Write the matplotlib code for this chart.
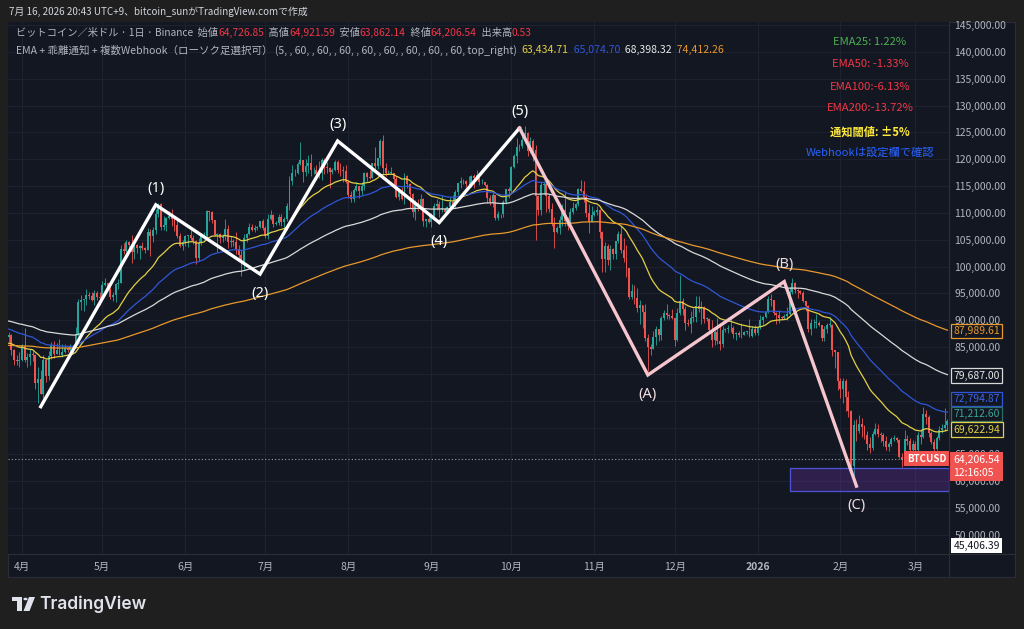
import numpy as np
import pandas as pd
import matplotlib
matplotlib.use('Agg')
import matplotlib.pyplot as plt
from matplotlib.patches import Rectangle, Circle, Polygon

plt.rcParams['font.family'] = ['Noto Sans CJK JP', 'DejaVu Sans']

# daily BTCUSD candles (thousand USD), 2025-03-27 .. 2026-03-13, open = previous close
start_date = '2025-03-27'
first_open_k = 86.9
close_k = [
    # 2025-03 (27-31)
    87.2, 84.4, 82.6, 82.4, 82.5,
    # 2025-04
    85.2, 82.5, 83.1, 83.8, 83.5, 78.3, 79.1, 76.3, 82.6, 79.6,
    83.4, 85.3, 83.7, 84.5, 83.6, 84.0, 84.9, 84.4, 85.0, 85.1,
    87.5, 93.4, 93.7, 93.9, 94.7, 94.6, 93.8, 95.0, 94.3, 94.2,
    # 2025-05
    96.5, 96.9, 95.9, 94.3, 94.7, 96.8, 97.0, 103.2, 102.9, 104.6,
    104.1, 102.8, 104.1, 103.5, 103.8, 103.5, 103.1, 106.5, 105.6, 106.8,
    109.7, 111.7, 107.3, 107.8, 109.0, 109.4, 108.9, 107.8, 105.6, 103.9,
    104.6,
    # 2025-06
    105.7, 105.8, 105.4, 104.7, 101.6, 104.4, 105.6, 105.7, 110.3, 110.2,
    108.7, 105.9, 106.0, 105.4, 105.6, 107.0, 104.5, 104.8, 104.6, 103.3,
    102.2, 100.9, 105.4, 106.0, 107.3, 106.9, 107.1, 107.3, 108.4, 107.1,
    # 2025-07
    105.7, 108.8, 109.6, 108.0, 108.2, 109.2, 108.3, 108.9, 111.3, 115.9,
    117.5, 117.4, 119.1, 119.8, 117.7, 118.7, 119.3, 117.9, 117.9, 117.3,
    117.4, 119.9, 118.6, 118.3, 117.6, 117.9, 119.4, 118.0, 117.9, 117.8,
    115.8,
    # 2025-08
    113.3, 112.6, 114.2, 115.1, 114.1, 115.0, 117.5, 116.7, 116.5, 119.3,
    118.7, 120.2, 123.3, 118.4, 117.4, 117.5, 117.5, 116.3, 112.9, 114.3,
    112.5, 116.9, 115.4, 113.5, 110.1, 111.8, 111.3, 112.6, 108.4, 108.8,
    108.3,
    # 2025-09
    109.2, 111.2, 111.7, 110.7, 110.7, 110.2, 111.1, 112.1, 111.5, 113.9,
    115.5, 116.0, 115.9, 115.3, 115.3, 116.8, 116.5, 117.1, 115.7, 115.7,
    115.2, 112.7, 112.0, 113.3, 109.0, 109.7, 109.7, 112.1, 114.4, 114.0,
    # 2025-10
    118.6, 120.6, 122.3, 122.4, 123.5, 124.8, 121.5, 123.3, 121.7, 113.2,
    110.6, 115.2, 115.3, 113.1, 110.8, 108.2, 106.5, 107.2, 108.7, 110.5,
    108.5, 107.6, 110.1, 111.0, 111.6, 114.5, 114.1, 112.9, 110.0, 108.3,
    109.6,
    # 2025-11
    110.1, 110.6, 106.5, 101.5, 103.9, 101.3, 103.3, 102.3, 104.7, 106.0,
    103.0, 101.6, 99.7, 94.4, 95.5, 94.2, 92.2, 92.9, 91.5, 86.6,
    85.1, 84.7, 86.8, 88.3, 87.3, 90.5, 91.3, 90.9, 90.8, 90.4,
    # 2025-12
    86.3, 91.3, 93.5, 92.1, 89.4, 89.3, 90.4, 90.6, 92.7, 92.0,
    92.5, 90.3, 90.3, 88.2, 86.4, 87.8, 86.2, 85.5, 88.1, 88.3,
    88.6, 88.5, 87.5, 87.6, 87.2, 87.3, 87.8, 87.8, 87.1, 88.4,
    87.6,
    # 2026-01
    88.7, 90.0, 90.6, 91.5, 93.9, 93.7, 91.3, 91.0, 90.5, 90.4,
    90.8, 91.2, 95.3, 97.0, 95.6, 95.5, 95.1, 93.6, 92.6, 88.3,
    89.4, 89.5, 89.5, 89.2, 86.6, 88.3, 89.2, 89.2, 84.5, 84.1,
    78.6,
    # 2026-02
    77.2, 78.7, 75.7, 73.0, 62.9, 70.5, 69.3, 70.6, 70.2, 68.7,
    67.0, 66.2, 68.8, 69.8, 68.8, 68.7, 67.5, 66.4, 66.9, 67.9,
    68.0, 67.6, 64.6, 64.0, 67.9, 67.5, 65.9, 66.9,
    # 2026-03 (1-13)
    65.8, 68.6, 68.3, 72.6, 72.0, 68.9, 67.4, 66.1, 68.0, 69.6,
    69.9, 70.5, 71.2,
]
high_k = [
    87.8, 87.5, 84.6, 83.5, 84.0,
    85.6, 88.5, 83.9, 84.7, 84.2, 83.8, 81.2, 80.8, 83.5, 82.7,
    84.2, 85.9, 86.1, 85.8, 86.5, 85.5, 85.5, 85.1, 85.6, 85.3,
    88.8, 93.9, 94.7, 94.0, 95.8, 95.3, 95.3, 95.6, 95.5, 95.2,
    97.4, 97.9, 96.9, 96.3, 95.2, 96.9, 97.7, 104.0, 104.3, 104.9,
    104.8, 105.8, 104.9, 104.2, 104.1, 104.6, 103.7, 107.1, 107.0, 107.3,
    110.8, 111.9, 111.9, 109.5, 109.3, 110.4, 110.7, 109.3, 108.9, 106.3,
    104.9,
    105.9, 105.9, 106.8, 105.9, 105.0, 105.4, 105.9, 106.5, 110.6, 110.4,
    110.4, 108.6, 106.2, 106.2, 106.1, 108.9, 107.7, 105.6, 105.2, 106.5,
    104.0, 103.0, 106.1, 106.3, 108.1, 108.0, 107.8, 107.6, 108.5, 108.8,
    107.5, 109.7, 110.5, 109.8, 108.4, 109.7, 109.7, 109.2, 111.9, 116.9,
    118.9, 118.2, 119.5, 123.2, 119.9, 120.1, 120.8, 120.9, 118.6, 118.9,
    119.7, 120.2, 120.2, 119.5, 118.5, 118.3, 119.8, 119.9, 119.3, 118.8,
    118.9,
    116.1, 114.0, 114.7, 115.7, 115.1, 115.7, 117.6, 117.7, 117.9, 119.3,
    122.3, 120.3, 123.7, 124.5, 119.2, 117.9, 118.6, 117.5, 116.8, 114.6,
    114.8, 117.4, 117.0, 115.6, 113.7, 112.4, 112.6, 113.5, 112.7, 108.9,
    109.5,
    109.9, 111.8, 112.6, 112.2, 113.4, 111.0, 111.3, 112.9, 113.3, 114.3,
    115.6, 116.7, 116.3, 116.1, 116.8, 117.0, 117.3, 117.9, 117.4, 116.3,
    115.8, 115.4, 113.3, 113.9, 113.4, 110.3, 109.8, 112.4, 114.5, 114.8,
    118.7, 121.0, 123.9, 122.9, 125.7, 126.2, 125.1, 124.2, 123.8, 122.6,
    113.4, 115.8, 116.0, 115.5, 113.6, 111.8, 109.2, 107.5, 109.5, 111.7,
    114.0, 109.2, 111.0, 112.0, 111.9, 114.6, 116.1, 116.0, 113.6, 111.6,
    111.2,
    110.6, 111.2, 110.8, 106.6, 104.5, 104.2, 104.0, 103.4, 104.8, 106.7,
    107.5, 105.3, 104.0, 99.8, 96.8, 96.6, 96.0, 93.8, 92.9, 93.1,
    87.5, 85.6, 88.0, 88.9, 88.4, 90.7, 91.9, 93.1, 91.2, 92.0,
    90.4, 92.3, 98.5, 94.1, 92.7, 90.3, 91.8, 92.3, 94.6, 94.5,
    93.5, 92.7, 90.6, 90.5, 90.1, 88.2, 90.4, 89.5, 89.0, 88.6,
    89.1, 90.6, 88.9, 87.9, 88.0, 89.5, 88.0, 88.0, 90.3, 89.0,
    89.2,
    88.9, 90.9, 90.7, 91.8, 94.6, 94.8, 93.8, 91.5, 91.9, 90.8,
    91.2, 92.4, 96.2, 97.9, 97.2, 95.8, 95.6, 95.5, 93.5, 92.8,
    90.3, 90.3, 91.2, 89.8, 89.2, 88.9, 89.5, 90.6, 89.3, 84.5,
    84.1,
    79.3, 79.3, 79.0, 76.9, 73.3, 71.5, 71.6, 72.3, 71.8, 70.5,
    69.3, 68.3, 69.4, 70.9, 70.6, 69.2, 69.0, 68.4, 67.3, 68.2,
    68.6, 68.3, 67.8, 65.2, 69.5, 68.6, 68.1, 67.7,
    67.5, 69.1, 69.8, 73.9, 73.3, 72.4, 69.3, 67.8, 68.5, 70.3,
    70.7, 73.6, 71.6,
]
low_k = [
    85.9, 83.6, 81.6, 81.6, 81.3,
    82.4, 82.3, 81.2, 81.7, 82.4, 77.2, 74.5, 76.2, 74.6, 78.5,
    78.9, 82.7, 83.0, 83.7, 83.6, 83.1, 83.9, 84.1, 84.2, 83.9,
    85.1, 87.1, 91.9, 91.7, 92.9, 93.9, 93.6, 92.9, 93.7, 92.9,
    94.1, 96.3, 95.7, 94.0, 93.5, 93.4, 95.8, 96.9, 102.3, 102.8,
    103.2, 100.7, 101.4, 102.6, 101.4, 103.1, 102.6, 103.1, 102.0, 104.6,
    106.1, 109.3, 106.8, 106.9, 106.6, 108.9, 107.6, 106.7, 105.3, 103.6,
    103.1,
    103.8, 103.7, 104.9, 104.2, 100.4, 101.1, 104.0, 105.1, 105.3, 108.4,
    108.1, 105.7, 102.7, 104.4, 104.5, 105.0, 103.4, 103.6, 103.9, 102.4,
    101.0, 98.2, 99.6, 104.6, 105.9, 106.6, 106.4, 106.8, 107.2, 106.8,
    105.3, 105.1, 108.6, 107.3, 107.8, 107.8, 107.5, 107.4, 108.4, 110.6,
    115.2, 116.9, 117.3, 118.9, 115.7, 116.9, 117.5, 116.8, 117.3, 116.5,
    116.5, 116.1, 117.3, 117.4, 114.7, 117.3, 117.8, 117.5, 116.9, 115.8,
    115.5,
    112.7, 112.0, 112.0, 114.1, 112.7, 113.4, 114.3, 115.9, 116.3, 116.5,
    118.1, 118.2, 118.9, 117.2, 116.8, 117.2, 117.2, 114.7, 112.7, 112.4,
    112.4, 111.7, 114.6, 110.9, 109.3, 108.7, 110.4, 110.9, 107.5, 107.4,
    108.1,
    107.3, 108.6, 110.6, 109.3, 110.2, 110.0, 110.0, 110.6, 110.9, 110.9,
    113.4, 114.7, 115.3, 114.8, 114.4, 114.8, 114.7, 116.3, 115.2, 115.3,
    115.1, 111.9, 111.5, 111.1, 108.7, 108.6, 109.1, 109.3, 111.6, 112.7,
    113.9, 118.4, 119.3, 121.6, 122.1, 123.1, 120.6, 121.1, 119.7, 105.0,
    109.6, 109.6, 113.5, 110.1, 110.2, 107.5, 103.5, 106.3, 106.1, 107.5,
    107.5, 106.8, 107.5, 109.7, 110.6, 111.3, 113.8, 112.1, 109.2, 106.3,
    108.6,
    109.4, 109.6, 105.3, 98.9, 98.9, 100.3, 99.3, 101.5, 101.4, 104.3,
    102.5, 100.8, 98.0, 94.0, 94.0, 93.0, 91.6, 89.3, 88.6, 86.1,
    80.6, 83.5, 84.6, 85.3, 86.1, 86.3, 90.0, 90.2, 90.3, 90.3,
    85.2, 86.2, 91.0, 91.0, 88.1, 88.9, 87.7, 89.6, 89.6, 91.6,
    89.3, 89.5, 89.8, 87.6, 85.1, 85.3, 85.5, 84.4, 85.1, 87.9,
    87.6, 87.9, 86.6, 86.4, 86.9, 86.6, 87.3, 87.5, 86.8, 86.9,
    87.3,
    87.2, 88.3, 89.3, 90.5, 91.4, 92.6, 90.9, 89.3, 89.5, 90.2,
    90.2, 90.0, 91.0, 94.9, 95.1, 94.2, 94.9, 93.4, 91.8, 87.9,
    87.3, 88.5, 88.6, 89.0, 86.2, 86.2, 87.6, 88.7, 83.4, 81.1,
    77.0,
    75.6, 74.6, 73.1, 71.9, 62.5, 60.1, 67.5, 68.9, 68.3, 67.9,
    65.8, 65.2, 65.9, 68.7, 68.2, 67.4, 66.6, 65.8, 65.6, 66.5,
    67.5, 67.3, 64.3, 62.6, 63.9, 66.8, 65.1, 63.5,
    65.2, 65.4, 67.0, 68.1, 70.6, 68.3, 67.0, 65.6, 65.8, 67.6,
    69.0, 69.4, 69.8,
]

# EMA settings, seeded with the values visible at the left edge
ema_periods = [25, 50, 100, 200]
ema_seed_k = [85.6, 88.4, 89.9, 85.3]
ema_colors = ['#e3cf45', '#2f56d6', '#d9d9d9', '#e8982c']

# Elliott wave drawing
wave_dates = ['2025-04-08', '2025-05-21', '2025-06-29', '2025-07-28', '2025-09-04', '2025-10-04']
wave_prices_k = [73.9, 111.5, 98.6, 123.4, 108.2, 125.8]
wave_labels = ['', '(1)', '(2)', '(3)', '(4)', '(5)']
abc_dates = ['2025-10-04', '2025-11-21', '2026-01-11', '2026-02-07']
abc_prices_k = [125.8, 79.8, 97.2, 59.1]
abc_labels = ['', '(A)', '(B)', '(C)']

zone_start = '2026-01-13'
zone_low_k, zone_high_k = 58.2, 62.5

last_price = 64206.54
month_labels = ['4月', '5月', '6月', '7月', '8月', '9月', '10月', '11月', '12月', '2026', '2月', '3月']

right_values = [87989.61, 79687.00, 72794.87, 71212.60, 69622.94]

# ---------------------------------------------------------------
c = np.array(close_k) * 1000
h = np.array(high_k) * 1000
l = np.array(low_k) * 1000
o = np.r_[first_open_k * 1000, c[:-1]]
h = np.maximum(h, np.maximum(o, c))
l = np.minimum(l, np.minimum(o, c))
n = len(c)
dates = pd.date_range(start_date, periods=n, freq='D')
t0 = dates[0]
idx = np.arange(n)


def day(d):
    return (pd.Timestamp(d) - t0).days


W, H = 1024, 629
BG = '#1f1f1f'
CH = '#131722'
TXT = '#b2b5be'

fig = plt.figure(figsize=(W / 100, H / 100), dpi=100, facecolor=BG)


def fx(x):
    return x / W


def fy(y):
    return 1 - y / H


# chart panel
fig.patches.append(Rectangle((fx(8), fy(577)), fx(1015) - fx(8), fy(22) - fy(577),
                             transform=fig.transFigure, fc=CH, ec='#2a2e39', lw=0.8, zorder=-10))

ax = fig.add_axes([fx(8), fy(554), fx(949) - fx(8), fy(22) - fy(554)])
ax.set_facecolor(CH)
for s in ax.spines.values():
    s.set_visible(False)
ax.set_xlim(-0.25, 351.6)
ax.set_ylim(46450, 145560)

# grid and axes
yt = np.arange(50000, 145001, 5000)
ax.set_yticks(yt)
ax.set_yticklabels([f'{v:,.2f}' for v in yt])
ax.yaxis.tick_right()
ax.tick_params(axis='y', length=0, pad=4, labelsize=7.5, labelcolor=TXT)
month_pos = [day(d) for d in pd.date_range('2025-04-01', '2026-03-01', freq='MS')]
ax.set_xticks(month_pos)
ax.set_xticklabels(month_labels)
ax.tick_params(axis='x', length=0, pad=6, labelsize=7.5, labelcolor=TXT)
for lab in ax.get_xticklabels():
    if lab.get_text() == '2026':
        lab.set_fontweight('bold')
ax.grid(True, color='#1e2230', lw=0.8)
ax.set_axisbelow(True)

# candles
up = c >= o
col = np.where(up, '#26a69a', '#ef5350')
ax.vlines(idx, l, h, colors=col, lw=0.6, zorder=2)
body = np.maximum(np.abs(c - o), 120)
ax.bar(idx, body, bottom=np.minimum(o, c), width=0.72, color=col, lw=0, zorder=2)

# EMAs
for p, s0, ec in zip(ema_periods, ema_seed_k, ema_colors):
    e = pd.Series(np.r_[s0 * 1000, c]).ewm(span=p, adjust=False).mean().values[1:]
    ax.plot(idx, e, color=ec, lw=0.9, zorder=3)

# zone box
zx = day(zone_start)
ax.add_patch(Rectangle((zx, zone_low_k * 1000), 351.6 - zx, (zone_high_k - zone_low_k) * 1000,
                       fc=(0.45, 0.2, 0.7, 0.3), ec='#4b55d6', lw=0.9, zorder=4))

# current price line
ax.axhline(last_price, color='#9ea1ab', lw=0.8, ls=(0, (1, 2)), zorder=4)

# waves
wx = [day(d) for d in wave_dates]
ax.plot(wx, np.array(wave_prices_k) * 1000, color='white', lw=2.4, zorder=6,
        solid_joinstyle='miter')
ax_ = [day(d) for d in abc_dates]
ax.plot(ax_, np.array(abc_prices_k) * 1000, color='#f6c6cf', lw=2.4, zorder=6,
        solid_joinstyle='miter')


def wave_text(xs, ps, labs, color):
    for i, (x, p, s) in enumerate(zip(xs, ps, labs)):
        if not s:
            continue
        prev = ps[i - 1]
        above = p > prev
        ax.annotate(s, (x, p * 1000), xytext=(0, 12 if above else -14), textcoords='offset points',
                    ha='center', va='center', color=color, fontsize=10.5, fontweight='bold',
                    family=['Noto Sans', 'DejaVu Sans'], zorder=7)


wave_text(wx, wave_prices_k, wave_labels, 'white')
wave_text(ax_, abc_prices_k, abc_labels, '#efdde1')

# right-axis labels
lab_style = [('#e8982c', '#e8982c', 0), ('#e8e8e8', '#d9d9d9', 0), ('#3f63e6', '#2f56d6', 9.8),
             ('#3aa596', '#2f6e66', 5), ('#e3cf45', '#e3cf45', 0)]
for v, (tc, ec, dy) in zip(right_values, lab_style):
    ax.annotate(f'{v:,.2f}', (1, v), xycoords=ax.get_yaxis_transform(), xytext=(3.2, dy),
                textcoords='offset points', ha='left', va='center', fontsize=7.5, color=tc,
                bbox=dict(boxstyle='square,pad=0.22', fc=CH, ec=ec, lw=0.9),
                annotation_clip=False, zorder=8)
ax.annotate(f'{last_price:,.2f}\n12:16:05', (1, last_price), xycoords=ax.get_yaxis_transform(),
            xytext=(3.2, 2.8), textcoords='offset points', ha='left', va='top', fontsize=7.5,
            color='white', linespacing=1.4,
            bbox=dict(boxstyle='square,pad=0.3', fc='#f05350', ec='#f05350', lw=0),
            annotation_clip=False, zorder=8)
ax.annotate('BTCUSD', (351.6, last_price), xytext=(-2, 0), textcoords='offset points',
            ha='right', va='center', fontsize=7, color='white', fontweight='bold',
            bbox=dict(boxstyle='square,pad=0.25', fc='#f05350', ec='#f05350', lw=0),
            annotation_clip=False, zorder=8)
ax.annotate('45,406.39', (1, 0), xycoords='axes fraction', xytext=(3.2, 6),
            textcoords='offset points', ha='left', va='center', fontsize=7.5, color='#131722',
            bbox=dict(boxstyle='square,pad=0.22', fc='white', ec='white', lw=0),
            annotation_clip=False, zorder=8)

# separators
fig.add_artist(plt.Line2D([fx(949), fx(949)], [fy(22), fy(577)], color='#2a2e39', lw=0.8))
fig.add_artist(plt.Line2D([fx(8), fx(1015)], [fy(554), fy(554)], color='#2a2e39', lw=0.8))

# header texts
rend = fig.canvas.get_renderer()


def text_runs(x, y, runs, size):
    x = fx(x)
    for s, cc in runs:
        t = fig.text(x, fy(y), s, color=cc, fontsize=size, va='center', ha='left')
        x += t.get_window_extent(rend).width / fig.bbox.width


fig.text(fx(9), fy(12), '7月 16, 2026 20:43 UTC+9、bitcoin_sunがTradingView.comで作成',
         color='#d1d4dc', fontsize=7.1, va='center')
RED = '#f23645'
text_runs(16, 33, [('ビットコイン／米ドル · 1日 · Binance  始値', TXT), ('64,726.85', RED),
                   ('  高値', TXT), ('64,921.59', RED), ('  安値', TXT), ('63,862.14', RED),
                   ('  終値', TXT), ('64,206.54', RED), ('  出来高', TXT), ('0.53', RED)], 7.35)
text_runs(16, 50, [('EMA + 乖離通知 + 複数Webhook（ローソク足選択可） (5, , 60, , 60, , 60, , 60, , 60, , 60, , 60, , 60, top_right)  ', TXT),
                   ('63,434.71', '#e3cf45'), ('  65,074.70', '#2f56d6'),
                   ('  68,398.32', '#e8e8e8'), ('  74,412.26', '#e8982c')], 7.55)

table = [('EMA25: 1.22%', '#4caf50', 42), ('EMA50: -1.33%', RED, 64), ('EMA100:-6.13%', RED, 87),
         ('EMA200:-13.72%', RED, 108), ('通知閾値: ±5%', '#ffeb3b', 132),
         ('Webhookは設定欄で確認', '#2962ff', 153)]
for s, cc, y in table:
    fig.text(fx(870), fy(y), s, color=cc, fontsize=8.1, ha='center', va='center',
             fontweight='bold' if s.startswith('通知') else 'normal')

# TradingView logo
LOGO = '#e0e3eb'
fig.patches.append(Rectangle((fx(12), fy(601)), fx(22) - fx(12), fy(597) - fy(601),
                             transform=fig.transFigure, fc=LOGO, ec='none'))
fig.patches.append(Rectangle((fx(16.5), fy(611)), fx(22) - fx(16.5), fy(597) - fy(611),
                             transform=fig.transFigure, fc=LOGO, ec='none'))
fig.patches.append(Circle((fx(25.5), fy(599)), 2.1 / W, transform=fig.transFigure, fc=LOGO, ec='none'))
fig.patches.append(Polygon([(fx(29), fy(597)), (fx(35), fy(597)), (fx(29.5), fy(611)), (fx(23.5), fy(611))],
                           closed=True, transform=fig.transFigure, fc=LOGO, ec='none'))
fig.text(fx(39), fy(604), 'TradingView', color=LOGO, fontsize=12.5, va='center', ha='left',
         family=['Inter', 'DejaVu Sans'], fontweight='semibold')

fig.savefig('out.png', dpi=100, facecolor=BG)
